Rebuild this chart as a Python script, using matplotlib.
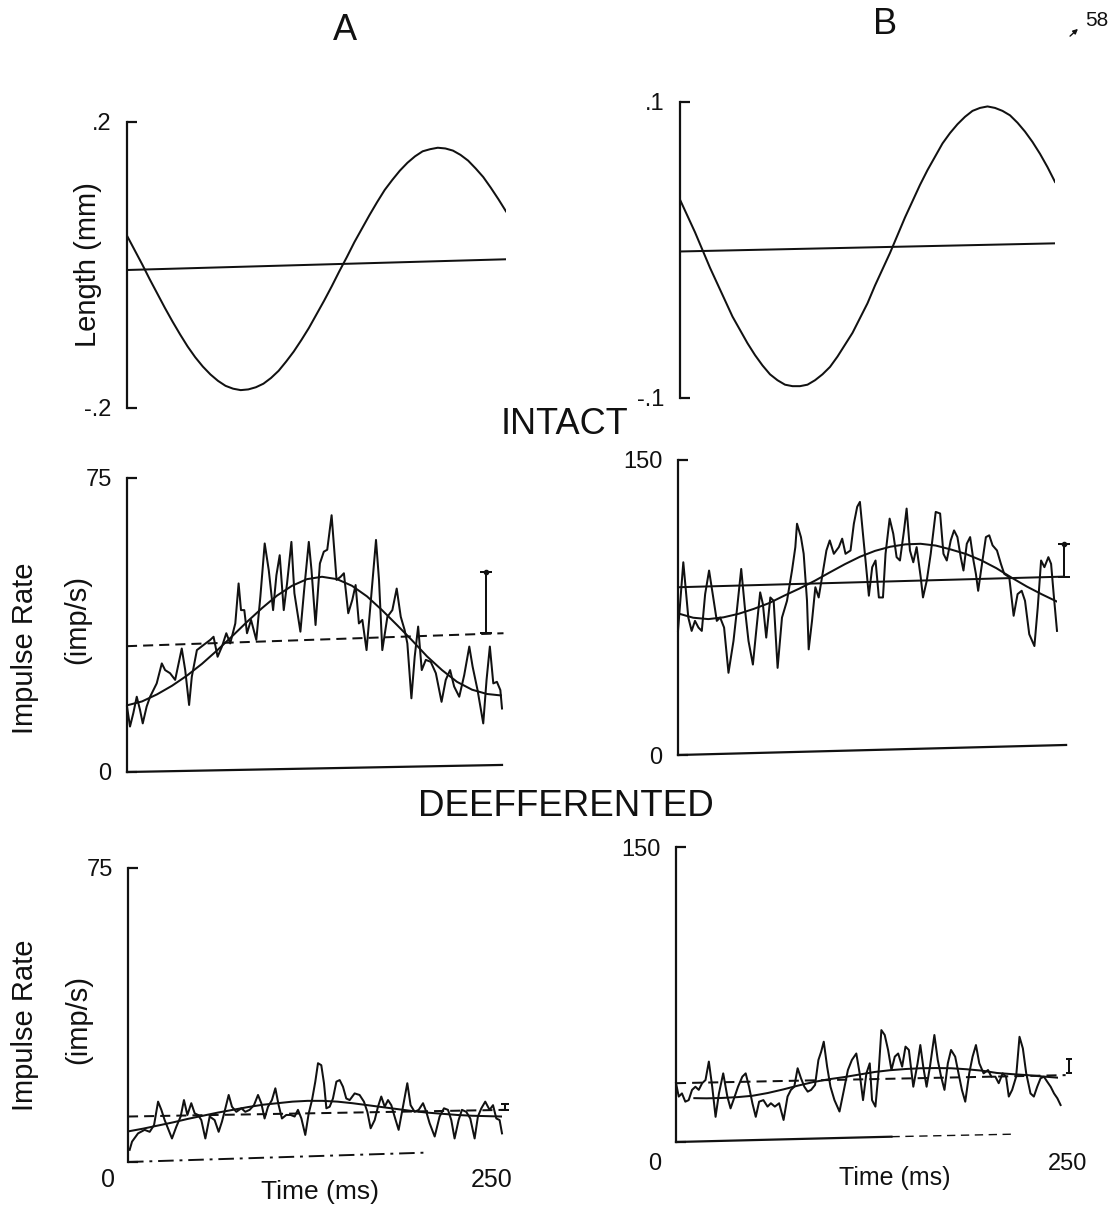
import matplotlib
matplotlib.use("Agg")
import matplotlib.pyplot as plt

plt.rcParams['font.family'] = ['Liberation Sans', 'DejaVu Sans']

# ---------------- data ----------------
t_fit = [0, 10, 20, 30, 40, 50, 60, 70, 80, 90, 100, 110, 120, 130, 140, 150,
         160, 170, 180, 190, 200, 210, 220, 230, 240, 250]
t_len = [0, 5, 10, 15, 20, 25, 30, 35, 40, 45, 50, 55, 60, 65, 70, 75, 80, 85, 90, 95,
         100, 105, 110, 115, 120, 125, 130, 135, 140, 145, 150, 155, 160, 165, 170, 175,
         180, 185, 190, 195, 200, 205, 210, 215, 220, 225, 230, 235, 240, 245, 250]

# Length (mm)
lenA = [0.041, 0.021, 0.001, -0.020, -0.040, -0.060, -0.079, -0.097, -0.114, -0.129,
        -0.142, -0.153, -0.162, -0.169, -0.173, -0.175, -0.174, -0.171, -0.166, -0.158,
        -0.148, -0.135, -0.121, -0.105, -0.088, -0.069, -0.050, -0.030, -0.009, 0.011,
        0.032, 0.051, 0.070, 0.088, 0.105, 0.119, 0.132, 0.143, 0.152, 0.159, 0.162,
        0.164, 0.163, 0.160, 0.154, 0.146, 0.135, 0.123, 0.108, 0.092, 0.075]
lenA_ref_t = [0, 250]
lenA_ref = [-0.007, 0.008]
lenB = [0.034, 0.023, 0.012, 0.000, -0.012, -0.023, -0.034, -0.045, -0.054, -0.063,
        -0.071, -0.078, -0.084, -0.088, -0.091, -0.092, -0.092, -0.091, -0.088, -0.084,
        -0.079, -0.072, -0.064, -0.056, -0.046, -0.036, -0.024, -0.013, -0.002, 0.010,
        0.022, 0.033, 0.044, 0.054, 0.063, 0.072, 0.079, 0.085, 0.090, 0.094, 0.096,
        0.097, 0.096, 0.094, 0.091, 0.086, 0.080, 0.073, 0.065, 0.056, 0.046]
lenB_ref_t = [0, 250]
lenB_ref = [-0.001, 0.0045]

# INTACT, A
intA_t = [0, 2.0, 4.2, 6.5, 8.7, 10.5, 13.1, 15.4, 17.6, 19.8, 23.2, 25.4, 28.7, 32.1, 36.5,
          38.8, 41.4, 43.2, 46.6, 51.0, 55.5, 57.7, 60.4, 63.3, 66.2, 68.8, 72.2, 74.4, 76.0,
          78.2, 80.0, 82.7, 86.2, 88.9, 91.8, 94.5, 97.4, 99.6, 101.8, 104.5, 106.7, 109.6,
          111.6, 115.6, 118.3, 121.2, 123.0, 125.7, 128.6, 131.2, 133.5, 136.4, 139.7, 142.4,
          144.6, 147.5, 150.2, 152.4, 154.6, 156.9, 159.7, 162.4, 166.0, 168.0, 170.2, 173.6,
          176.9, 179.8, 182.5, 185.1, 186.9, 189.6, 191.8, 194.1, 196.5, 199.2, 202.5, 205.9,
          209.7, 212.5, 215.4, 218.1, 221.5, 224.8, 228.2, 230.4, 233.7, 237.5, 239.7, 241.9,
          244.2, 246.6, 248.9, 250]
intA_v = [16.7, 11.6, 15.0, 19.2, 15.8, 12.4, 16.7, 19.2, 20.9, 22.6, 27.7, 26.0, 25.2, 23.5,
          31.5, 26.0, 17.1, 24.3, 31.1, 32.4, 33.7, 34.5, 29.4, 32.0, 35.4, 32.8, 37.9, 48.1,
          41.3, 41.3, 35.4, 38.8, 33.7, 44.7, 58.3, 51.5, 41.3, 50.2, 55.3, 41.3, 48.1, 58.7,
          45.6, 35.8, 47.3, 58.7, 51.5, 37.5, 53.2, 56.2, 56.7, 65.5, 49.0, 49.8, 50.7, 40.5,
          43.9, 47.7, 37.9, 38.8, 31.1, 43.0, 59.2, 49.0, 31.1, 39.6, 41.3, 46.8, 39.6, 36.2,
          32.8, 18.8, 29.4, 37.1, 26.0, 28.6, 28.1, 25.2, 17.9, 23.5, 26.0, 21.8, 19.2, 24.7,
          32.0, 26.9, 20.9, 12.4, 23.5, 32.0, 22.6, 23.0, 20.9, 16.2]
intA_fit = [17.0, 18.0, 19.8, 22.0, 24.6, 27.6, 31.0, 34.6, 38.3, 41.8, 45.0, 47.5, 49.2,
            49.8, 49.2, 47.5, 44.8, 41.3, 37.5, 33.6, 29.5, 26.0, 23.0, 21.0, 19.9, 19.5]
intA_mean_t = [0, 251]
intA_mean = [32.1, 35.4]
intA_err = (239.3, 35.4, 51.1)
intA_base = [0, 1.8]

# INTACT, B
intB_t = [0, 3.5, 6.8, 9.0, 11.2, 13.5, 15.7, 17.9, 20.5, 22.9, 25.6, 27.8, 30.4, 33.3, 36.6,
          38.8, 41.7, 44.3, 46.5, 49.4, 51.6, 54.2, 56.0, 58.2, 60.9, 63.1, 65.7, 68.6, 71.9,
          75.2, 77.4, 78.5, 81.1, 82.9, 85.1, 86.2, 88.4, 90.6, 92.8, 95.0, 97.9, 100.1, 102.8,
          106.1, 108.3, 110.5, 113.8, 116.0, 118.2, 120.0, 122.2, 123.7, 125.9, 128.1, 130.3,
          132.5, 135.2, 136.9, 139.6, 142.0, 144.2, 146.4, 149.1, 150.8, 153.0, 155.2, 157.4,
          160.1, 161.6, 164.1, 166.7, 170.0, 172.9, 175.1, 177.3, 179.9, 182.1, 184.3, 186.5,
          188.3, 190.5, 192.7, 194.9, 196.5, 198.0, 200.2, 203.1, 205.3, 207.5, 210.4, 213.0,
          215.2, 218.5, 221.4, 224.0, 226.7, 228.9, 231.7, 235.1, 237.3, 239.5, 241.7, 244.3,
          246.1, 247.8, 250]
intB_v = [63.1, 98.0, 69.9, 63.1, 68.2, 64.8, 63.1, 81.8, 93.8, 81.8, 68.2, 69.9, 64.8, 41.8,
          58.0, 73.3, 94.6, 73.3, 58.0, 46.0, 63.1, 82.7, 76.7, 59.7, 80.1, 78.4, 44.3, 69.9,
          78.4, 93.8, 105.7, 117.6, 110.8, 102.3, 78.4, 53.7, 68.2, 85.3, 80.1, 90.4, 104.0,
          109.1, 102.3, 105.7, 110.0, 102.3, 104.0, 117.6, 126.2, 128.7, 110.8, 98.9, 81.0,
          95.5, 98.9, 80.1, 80.1, 102.3, 120.2, 112.5, 100.6, 98.9, 114.2, 125.3, 104.0, 98.0,
          105.7, 90.4, 80.1, 88.7, 102.3, 123.6, 122.8, 102.3, 98.9, 109.1, 114.2, 110.8, 100.6,
          93.8, 107.4, 110.8, 98.9, 92.1, 83.5, 95.5, 110.8, 111.7, 106.6, 104.0, 97.2, 92.1,
          90.4, 70.8, 81.8, 83.5, 78.4, 61.4, 55.4, 75.0, 98.9, 95.5, 100.6, 97.2, 81.8, 63.1]
intB_fit = [72.0, 69.8, 69.1, 70.0, 71.8, 74.3, 77.2, 81.0, 84.6, 88.5, 92.8, 97.0, 100.8,
            103.8, 105.9, 107.1, 107.4, 106.5, 104.5, 102.2, 99.0, 95.0, 90.2, 85.7, 81.7, 78.0]
intB_mean_t = [0, 254.5]
intB_mean = [85.3, 90.7]
intB_err = (254.5, 90.7, 107.4)
intB_base = [0, 5.1]

# DEEFFERENTED, A
defA_t = [1.1, 2.7, 6.7, 11.1, 14.5, 17.4, 20.1, 22.3, 24.5, 26.7, 29.4, 32.3, 35.2, 37.4,
          39.7, 42.3, 44.6, 46.8, 49.0, 51.7, 54.6, 57.9, 60.6, 62.8, 65.1, 67.3, 69.5, 72.4,
          75.8, 78.4, 81.3, 84.2, 86.9, 89.1, 91.3, 93.6, 96.2, 98.5, 100.7, 102.9, 105.8,
          108.7, 111.4, 113.6, 115.9, 118.5, 120.8, 123.0, 125.2, 127.0, 129.2, 131.0, 132.6,
          134.8, 137.0, 139.3, 141.5, 143.7, 145.9, 148.2, 151.5, 154.8, 157.7, 160.0, 162.2,
          164.9, 167.1, 169.3, 171.6, 173.8, 176.0, 178.2, 180.9, 183.8, 186.7, 188.9, 191.6,
          194.3, 197.2, 199.4, 201.6, 205.0, 208.3, 211.2, 213.9, 216.1, 218.3, 221.0, 223.2,
          226.1, 228.8, 231.7, 233.9, 236.2, 238.8, 241.7, 244.0, 246.2, 248.4, 250]
defA_v = [3.1, 5.2, 7.3, 8.2, 7.7, 9.4, 15.4, 13.3, 10.7, 8.6, 6.0, 9.0, 11.6, 15.8, 12.0,
          15.0, 12.4, 12.0, 10.7, 6.0, 11.6, 10.7, 7.7, 10.3, 13.7, 17.1, 14.1, 12.8, 13.7,
          12.8, 13.3, 14.5, 17.1, 15.0, 11.1, 14.1, 15.8, 18.8, 14.5, 11.1, 12.0, 12.0, 11.6,
          13.3, 11.1, 6.9, 12.4, 15.8, 20.5, 25.2, 24.7, 20.1, 13.7, 14.1, 16.2, 20.5, 20.9,
          19.2, 16.2, 15.8, 17.5, 17.1, 15.4, 12.8, 8.6, 10.7, 14.1, 16.7, 14.1, 15.8, 14.5,
          11.6, 8.2, 14.1, 20.1, 14.5, 12.8, 13.3, 15.0, 12.8, 9.9, 6.5, 11.6, 13.7, 13.3,
          10.7, 6.0, 10.7, 13.3, 12.8, 11.1, 6.0, 11.6, 13.7, 15.4, 13.3, 14.5, 11.1, 10.7, 7.3]
defA_fit = [7.8, 8.5, 9.3, 10.1, 11.0, 11.8, 12.6, 13.3, 14.0, 14.6, 15.0, 15.4, 15.6,
            15.6, 15.4, 15.0, 14.5, 14.0, 13.5, 13.0, 12.6, 12.3, 12.0, 11.8, 11.7, 11.6]
defA_mean_t = [0, 252]
defA_mean = [11.6, 13.3]
defA_err = (252.0, 13.3, 14.8)
defA_base_t = [0, 200]
defA_base = [0, 2.4]

# DEEFFERENTED, B
defB_t = [0, 1.8, 3.9, 6.1, 8.3, 10.5, 12.7, 14.9, 17.1, 19.3, 21.5, 23.7, 25.9, 28.1, 30.9,
          33.6, 35.7, 38.4, 40.6, 43.4, 45.6, 47.8, 50.0, 52.2, 54.4, 57.2, 59.9, 62.1, 64.7,
          67.5, 70.4, 73.0, 75.2, 77.4, 79.6, 81.8, 84.0, 86.2, 88.4, 91.0, 93.2, 95.0, 96.7,
          98.9, 101.1, 103.7, 107.0, 109.9, 112.5, 115.1, 118.0, 120.2, 122.4, 124.6, 126.8,
          128.3, 130.5, 132.7, 134.4, 136.6, 138.8, 141.0, 143.2, 145.4, 148.0, 150.2, 152.4,
          155.3, 158.1, 159.9, 161.8, 164.0, 166.2, 169.1, 171.3, 173.5, 175.7, 177.9, 180.0,
          182.7, 184.9, 187.1, 189.3, 191.9, 194.1, 196.3, 198.5, 201.3, 204.2, 206.4, 209.0,
          211.2, 213.8, 216.0, 217.8, 220.0, 222.6, 224.8, 227.0, 229.2, 232.0, 234.2, 236.4,
          238.6, 240.8, 243.0, 245.2, 247.4, 249.6, 251.7]
defB_v = [29.9, 23.1, 24.7, 20.5, 21.3, 26.5, 28.1, 26.5, 29.9, 31.5, 40.9, 28.1, 12.8, 24.7,
          34.9, 23.1, 17.1, 23.1, 28.1, 33.2, 34.9, 28.1, 19.7, 12.8, 20.5, 21.3, 18.0, 19.7,
          18.0, 19.7, 11.2, 23.1, 26.5, 28.1, 37.5, 32.4, 28.1, 25.6, 26.5, 29.0, 41.7, 45.9,
          51.0, 38.3, 28.1, 21.3, 15.5, 26.5, 36.6, 41.7, 45.0, 34.9, 21.3, 34.9, 40.0, 21.3,
          18.0, 36.6, 56.9, 54.4, 46.8, 36.6, 43.4, 45.0, 38.3, 48.5, 46.8, 28.1, 40.0, 49.3,
          38.3, 28.1, 38.3, 54.4, 41.7, 33.2, 26.5, 40.0, 46.8, 43.4, 34.9, 26.5, 20.5, 34.9,
          43.4, 49.3, 40.0, 34.9, 36.6, 33.2, 33.2, 29.9, 34.9, 33.2, 23.1, 26.5, 33.2, 53.5,
          47.6, 34.9, 24.7, 23.1, 28.1, 32.4, 33.2, 30.6, 28.1, 24.7, 22.2, 18.8]
defB_fit_t = [12, 20, 30, 40, 50, 60, 70, 80, 90, 100, 110, 120, 130, 140, 150, 160, 170,
              180, 190, 200, 210, 220, 230, 240, 250]
defB_fit = [22.3, 22.2, 22.4, 22.8, 23.5, 24.9, 26.7, 28.7, 30.5, 31.9, 33.0, 34.3, 35.6,
            36.5, 37.1, 37.5, 37.6, 37.5, 37.0, 36.3, 35.1, 34.5, 34.0, 33.3, 32.7]
defB_mean_t = [0, 255]
defB_mean = [29.9, 34.0]
defB_err = (257.0, 35.0, 42.0)
defB_base_t = [0, 141, 222]
defB_base = [0, 2.7, 4.0]

# ---------------- figure ----------------
W, H = 1112, 1206
fig = plt.figure(figsize=(W / 100, H / 100), dpi=100)
INK = '#111111'
LW = 1.45


def add_axes_px(x0, x1, ytop, ybot):
    return fig.add_axes([x0 / W, 1 - ybot / H, (x1 - x0) / W, (ybot - ytop) / H])


def style(ax, ylim, ticklabels):
    ax.set_xlim(0, 250)
    ax.set_ylim(*ylim)
    ax.patch.set_visible(False)
    for s in ('top', 'right', 'bottom'):
        ax.spines[s].set_visible(False)
    ax.spines['left'].set_linewidth(1.6)
    ax.spines['left'].set_color(INK)
    ax.set_xticks([])
    ax.set_yticks(list(ylim))
    ax.set_yticklabels(ticklabels)
    ax.tick_params(axis='y', direction='in', length=7, width=1.6, pad=11,
                   labelsize=17, colors=INK)


# top panels
axA1 = add_axes_px(127, 506, 122, 408)
style(axA1, (-0.2, 0.2), ['-.2', '.2'])
axA1.plot(t_len, lenA, color=INK, lw=LW)
axA1.plot(lenA_ref_t, lenA_ref, color=INK, lw=LW)

axB1 = add_axes_px(680, 1055, 102, 398)
style(axB1, (-0.1, 0.1), ['-.1', '.1'])
axB1.plot(t_len, lenB, color=INK, lw=LW)
axB1.plot(lenB_ref_t, lenB_ref, color=INK, lw=LW)

# middle panels
axA2 = add_axes_px(127, 502, 478, 772)
style(axA2, (0, 75), ['0', '75'])
axA2.plot(intA_t, intA_v, color=INK, lw=LW, clip_on=False)
axA2.plot(t_fit, intA_fit, color=INK, lw=LW)
axA2.plot(intA_mean_t, intA_mean, color=INK, lw=LW, ls=(0, (5, 3)), clip_on=False)
axA2.errorbar([intA_err[0]], [intA_err[2]], yerr=[[intA_err[2] - intA_err[1]], [0]],
              fmt='o', ms=3, color=INK, lw=LW, capsize=4, capthick=LW, clip_on=False)
axA2.plot([0, 250], intA_base, color=INK, lw=1.6, clip_on=False)

axB2 = add_axes_px(678, 1057, 460, 755)
style(axB2, (0, 150), ['0', '150'])
axB2.plot(intB_t, intB_v, color=INK, lw=LW, clip_on=False)
axB2.plot(t_fit, intB_fit, color=INK, lw=LW)
axB2.plot(intB_mean_t, intB_mean, color=INK, lw=LW, clip_on=False)
axB2.errorbar([intB_err[0]], [intB_err[2]], yerr=[[intB_err[2] - intB_err[1]], [0]],
              fmt='o', ms=3, color=INK, lw=LW, capsize=4, capthick=LW, clip_on=False)
axB2.plot([0, 256], intB_base, color=INK, lw=1.6, clip_on=False)

# bottom panels
axA3 = add_axes_px(128, 502, 868, 1162)
style(axA3, (0, 75), ['', '75'])
axA3.plot(defA_t, defA_v, color=INK, lw=LW, clip_on=False)
axA3.plot(t_fit, defA_fit, color=INK, lw=LW)
axA3.plot(defA_mean_t, defA_mean, color=INK, lw=LW, ls=(0, (5, 3)), clip_on=False)
axA3.errorbar([defA_err[0]], [defA_err[2]], yerr=[[defA_err[2] - defA_err[1]], [0]],
              fmt='none', color=INK, lw=LW, capsize=3, capthick=LW, clip_on=False)
axA3.plot(defA_base_t, defA_base, color=INK, lw=1.4, ls=(0, (8, 3, 1.5, 3)), clip_on=False)

axB3 = add_axes_px(676, 1058, 847, 1142)
style(axB3, (0, 150), ['', '150'])
axB3.plot(defB_t, defB_v, color=INK, lw=LW, clip_on=False)
axB3.plot(defB_fit_t, defB_fit, color=INK, lw=LW)
axB3.plot(defB_mean_t, defB_mean, color=INK, lw=LW, ls=(0, (5, 3)), clip_on=False)
axB3.errorbar([defB_err[0]], [defB_err[2]], yerr=[[defB_err[2] - defB_err[1]], [0]],
              fmt='none', color=INK, lw=LW, capsize=2, capthick=LW, clip_on=False)
axB3.plot(defB_base_t[:2], defB_base[:2], color=INK, lw=1.6, clip_on=False)
axB3.plot(defB_base_t[1:], defB_base[1:], color=INK, lw=1.0, ls=(0, (6, 4)), clip_on=False)


# ---------------- text ----------------
def ftext(x, y, s, **kw):
    kw.setdefault('ha', 'center')
    kw.setdefault('va', 'center')
    kw.setdefault('color', INK)
    fig.text(x / W, 1 - y / H, s, **kw)


ftext(345, 30, 'A', fontsize=26)
ftext(885, 24, 'B', fontsize=26)
ftext(1097, 20, '58', fontsize=15)
fig.add_artist(matplotlib.patches.FancyArrowPatch(
    (1068 / W, 1 - 38 / H), (1080 / W, 1 - 27 / H), transform=fig.transFigure,
    arrowstyle='-|>', mutation_scale=7, color=INK, lw=1.0))
ftext(565, 425, 'INTACT', fontsize=26)
ftext(566, 807, 'DEEFFERENTED', fontsize=26.5)

ftext(88, 265, 'Length (mm)', fontsize=21, rotation=90)
ftext(25, 648, 'Impulse Rate', fontsize=21, rotation=90)
ftext(77, 620, '(imp/s)', fontsize=21, rotation=90)
ftext(25, 1025, 'Impulse Rate', fontsize=21, rotation=90)
ftext(78, 1020, '(imp/s)', fontsize=21, rotation=90)

ftext(108, 1180, '0', fontsize=18)
ftext(320, 1192, 'Time (ms)', fontsize=19)
ftext(492, 1180, '250', fontsize=18)
ftext(655, 1164, '0', fontsize=17)
ftext(895, 1178, 'Time (ms)', fontsize=18)
ftext(1068, 1164, '250', fontsize=17)

fig.savefig('out.png', dpi=100, facecolor='white')
